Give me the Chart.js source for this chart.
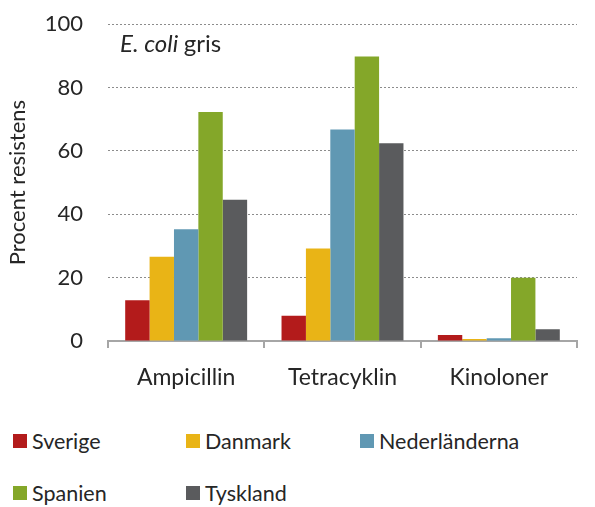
<!DOCTYPE html>
<html><head><meta charset="utf-8">
<script src="https://cdn.jsdelivr.net/npm/chart.js@4/dist/chart.umd.min.js"></script>
<style>
html,body{margin:0;padding:0;background:#fff;overflow:hidden;}
#wrap{position:relative;width:595px;height:507px;overflow:hidden;}
#c{position:absolute;left:0;top:-14px;}
.leg{position:absolute;font-family:Lato, "Open Sans", sans-serif;font-size:21.5px;color:#262626;line-height:22px;white-space:nowrap;}
.leg span.box{position:absolute;left:0;top:4px;width:14px;height:14px;}
.leg span.t{position:absolute;left:19px;top:0;}
</style></head>
<body><div id="wrap"><canvas id="c" width="595" height="414"></canvas><div id="legend"></div></div>
<script>
const categories = ["Ampicillin", "Tetracyklin", "Kinoloner"];
const seriesNames = ["Sverige", "Danmark", "Nederländerna", "Spanien", "Tyskland"];
const seriesColors = ["#B31B1B", "#E9B416", "#6098B3", "#84A729", "#5A5B5D"];
const sverige = [12.9, 8.0, 1.9];
const danmark = [26.6, 29.2, 0.6];
const nederlanderna = [35.3, 66.8, 0.9];
const spanien = [72.3, 89.8, 20.0];
const tyskland = [44.6, 62.4, 3.7];
const yTicks = [0, 20, 40, 60, 80, 100];

const seriesValues = [sverige, danmark, nederlanderna, spanien, tyskland];
const FONT = 'Lato, "Open Sans", sans-serif';

const titlePlugin = {
  id: 'titleText',
  afterDraw(chart) {
    const ctx = chart.ctx;
    const x0 = chart.chartArea.left + 12;
    const y0 = chart.chartArea.top + 28;
    ctx.save();
    ctx.fillStyle = '#262626';
    ctx.textBaseline = 'alphabetic';
    ctx.font = 'italic 24px ' + FONT;
    ctx.fillText('E. coli', x0, y0);
    const w = ctx.measureText('E. coli ').width;
    ctx.font = '24px ' + FONT;
    ctx.fillText('gris', x0 + w, y0);
    ctx.restore();
  }
};

new Chart(document.getElementById('c'), {
  type: 'bar',
  data: {
    labels: categories,
    datasets: seriesNames.map((n, i) => ({
      label: n,
      data: seriesValues[i],
      backgroundColor: seriesColors[i],
      borderWidth: 0,
      categoryPercentage: 0.78,
      barPercentage: 1.0
    }))
  },
  options: {
    responsive: false,
    animation: false,
    layout: { padding: { left: 0, right: 18, top: 2, bottom: 0 } },
    plugins: { legend: { display: false }, tooltip: { enabled: false } },
    scales: {
      x: {
        offset: true,
        grid: { offset: true, drawOnChartArea: false, drawTicks: true, tickLength: 7, color: '#A6A6A6', lineWidth: 2 },
        border: { display: true, color: '#A6A6A6', width: 2 },
        ticks: { color: '#262626', font: { family: FONT, size: 23 }, padding: 16 },
        afterFit(s) { s.height = 59; }
      },
      y: {
        min: 0, max: 100,
        afterBuildTicks(s) { s.ticks = yTicks.map(v => ({ value: v })); },
        grid: {
          drawTicks: false,
          color: ctx => ctx.tick && ctx.tick.value === 0 ? 'rgba(0,0,0,0)' : '#8C8C8C',
          lineWidth: 1
        },
        border: { display: false, dash: [2, 2] },
        ticks: { color: '#262626', font: { family: FONT, size: 22 }, padding: 25 },
        title: { display: true, text: 'Procent resistens', color: '#262626', font: { family: FONT, size: 22 }, padding: { top: 5, bottom: 0 } },
        afterFit(s) { s.width = 108; }
      }
    }
  },
  plugins: [titlePlugin]
});

// HTML legend
const legendPos = [[13, 430], [186, 430], [360, 430], [13, 482], [186, 482]];
const lg = document.getElementById('legend');
seriesNames.forEach((n, i) => {
  const d = document.createElement('div');
  d.className = 'leg';
  d.style.left = legendPos[i][0] + 'px';
  d.style.top = legendPos[i][1] + 'px';
  d.innerHTML = '<span class="box" style="background:' + seriesColors[i] + '"></span><span class="t">' + n + '</span>';
  lg.appendChild(d);
});
</script>
</body></html>
